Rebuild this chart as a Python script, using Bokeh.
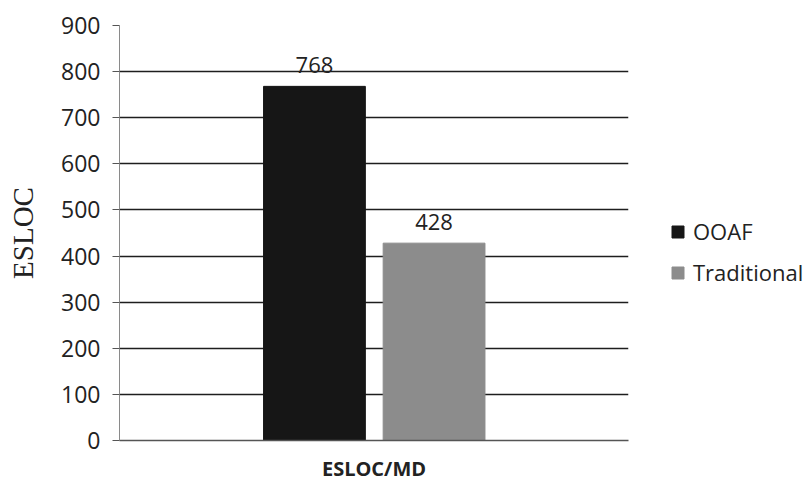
from bokeh.plotting import figure
from bokeh.models import (ColumnDataSource, FactorRange, LabelSet, Legend,
                          LegendItem, FixedTicker)
from bokeh.transform import dodge
from bokeh.core.properties import value
from bokeh.embed import file_html
from bokeh.resources import INLINE

# Data
group = "ESLOC/MD"
series = ["OOAF", "Traditional"]
values = [768, 428]
colors = ["#161616", "#8c8c8c"]
offsets = [-0.117, 0.118]
y_ticks = [0, 100, 200, 300, 400, 500, 600, 700, 800, 900]
y_title = "ESLOC"

p = figure(frame_width=509, height=484, x_range=FactorRange(group),
           y_range=(0, 900), output_backend="svg", toolbar_location=None,
           min_border_left=119, min_border_right=0,
           min_border_top=25, min_border_bottom=44)
p.outline_line_color = None
p.background_fill_color = "white"

renderers = []
for name, val, col, off in zip(series, values, colors, offsets):
    src = ColumnDataSource(dict(x=[group], top=[val], label=[str(val)]))
    r = p.vbar(x=dodge("x", off, range=p.x_range), top="top", width=0.2,
               source=src, fill_color=col, line_color=col)
    renderers.append((name, r))
    p.add_layout(LabelSet(x=dodge("x", off, range=p.x_range), y="top", text="label",
                          source=src, text_align="center",
                          text_baseline="alphabetic", y_offset=13,
                          text_font=value("Open Sans"),
                          text_font_size=value("22px"), text_color="#222222"))

# Grid
p.xgrid.grid_line_color = None
p.ygrid.grid_line_color = "#1e1e1e"
p.ygrid.grid_line_width = 1.4

# Y axis
p.yaxis.ticker = FixedTicker(ticks=y_ticks)
p.yaxis.axis_label = y_title
p.yaxis.axis_label_text_font = "Liberation Serif"
p.yaxis.axis_label_text_font_size = "29px"
p.yaxis.axis_label_text_font_style = "normal"
p.yaxis.axis_label_text_color = "#222222"
p.yaxis.axis_label_standoff = 19
p.yaxis.major_label_text_font = "Open Sans"
p.yaxis.major_label_text_font_size = "23px"
p.yaxis.major_label_text_color = "#222222"
p.yaxis.major_label_standoff = 12
p.yaxis.axis_line_color = "#8a8a8a"
p.yaxis.major_tick_line_color = "#555555"
p.yaxis.major_tick_out = 7
p.yaxis.major_tick_in = 0
p.yaxis.minor_tick_line_color = None

# X axis
p.xaxis.axis_line_color = "#555555"
p.xaxis.axis_line_width = 1.4
p.xaxis.major_tick_line_color = None
p.xaxis.major_label_text_font = "Open Sans"
p.xaxis.major_label_text_font_style = "bold"
p.xaxis.major_label_text_font_size = "20px"
p.xaxis.major_label_text_color = "#222222"
p.xaxis.major_label_standoff = 8

legend = Legend(items=[LegendItem(label=n, renderers=[r]) for n, r in renderers],
                location=(42, 153), label_text_font="Open Sans",
                label_text_font_size="22px", label_text_color="#222222",
                glyph_width=15, glyph_height=15, spacing=11, label_standoff=8,
                padding=0, margin=0,
                border_line_color=None, background_fill_alpha=0)
p.add_layout(legend, "right")

open("out.html", "w").write(file_html(p, INLINE))
